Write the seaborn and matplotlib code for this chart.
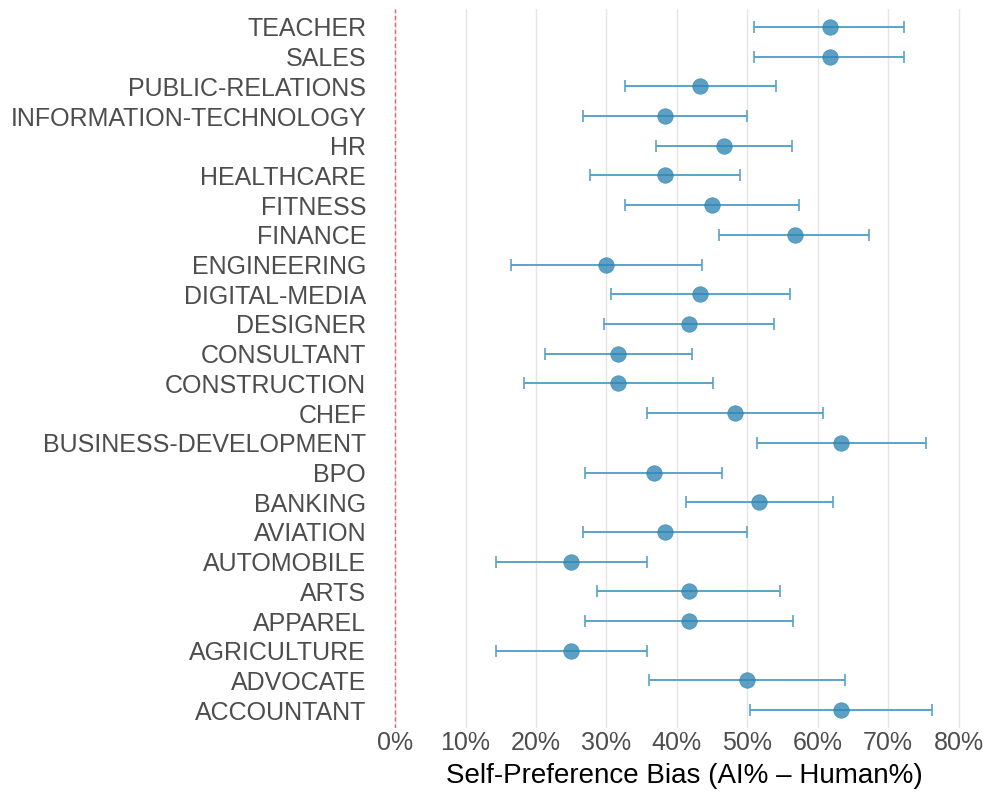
import matplotlib
matplotlib.use("Agg")
import matplotlib.pyplot as plt
import seaborn as sns
import pandas as pd
from matplotlib.ticker import PercentFormatter

# Categories listed bottom -> top (alphabetical)
categories = ["ACCOUNTANT", "ADVOCATE", "AGRICULTURE", "APPAREL", "ARTS", "AUTOMOBILE",
              "AVIATION", "BANKING", "BPO", "BUSINESS-DEVELOPMENT", "CHEF", "CONSTRUCTION",
              "CONSULTANT", "DESIGNER", "DIGITAL-MEDIA", "ENGINEERING", "FINANCE", "FITNESS",
              "HEALTHCARE", "HR", "INFORMATION-TECHNOLOGY", "PUBLIC-RELATIONS", "SALES", "TEACHER"]
bias = [63.3, 50.0, 25.0, 41.7, 41.7, 25.0,
        38.3, 51.7, 36.7, 63.3, 48.3, 31.7,
        31.7, 41.7, 43.3, 30.0, 56.7, 45.0,
        38.3, 46.7, 38.3, 43.3, 61.7, 61.7]
ci_low = [50.4, 36.1, 14.3, 26.9, 28.6, 14.3,
          26.6, 41.3, 27.0, 51.4, 35.8, 18.3,
          21.3, 29.6, 30.6, 16.5, 46.0, 32.6,
          27.7, 37.0, 26.6, 32.6, 51.0, 51.0]
ci_high = [76.2, 63.9, 35.7, 56.5, 54.7, 35.7,
           50.0, 62.1, 46.4, 75.3, 60.8, 45.1,
           42.1, 53.8, 56.1, 43.5, 67.3, 57.4,
           48.9, 56.4, 50.0, 54.0, 72.3, 72.3]

df = pd.DataFrame({"category": categories,
                   "bias": [b / 100 for b in bias],
                   "lo": [l / 100 for l in ci_low],
                   "hi": [h / 100 for h in ci_high]})

sns.set_theme(style="white")
plt.rcParams["font.family"] = ["Liberation Sans", "DejaVu Sans"]

fig = plt.figure(figsize=(9.97, 7.97), dpi=100)
ax = fig.add_axes([0.384, 0.0866, 0.604, 0.902])

color = "#2f86b3"
ax.errorbar(df["bias"], df["category"],
            xerr=[df["bias"] - df["lo"], df["hi"] - df["bias"]],
            fmt="none", ecolor="#5aa3c8", elinewidth=1.4, capsize=4, capthick=1.2,
            zorder=2)
sns.scatterplot(data=df, x="bias", y="category", ax=ax, s=125, color=color,
                alpha=0.78, edgecolor=color, linewidth=0.5, zorder=3)

ax.axvline(0, color="#e06666", linestyle=(0, (3, 2)), linewidth=1.0, zorder=1)

ax.set_xlim(-0.0175, 0.8375)
ax.set_ylim(-0.6, len(categories) - 0.4)
ax.set_xticks([i / 10 for i in range(9)])
ax.xaxis.set_major_formatter(PercentFormatter(1.0, decimals=0))
ax.grid(axis="x", color="#e4e4ea", linewidth=1.0)
ax.grid(axis="y", visible=False)
ax.set_axisbelow(True)
for s in ax.spines.values():
    s.set_visible(False)
ax.tick_params(axis="both", length=0, labelsize=18, colors="#4d4d4d")
ax.tick_params(axis="y", pad=12)
ax.tick_params(axis="x", pad=2)
ax.set_ylabel("")
ax.set_xlabel("Self-Preference Bias (AI% – Human%)", fontsize=20, color="black", labelpad=6)

fig.savefig("out.png", dpi=100)
